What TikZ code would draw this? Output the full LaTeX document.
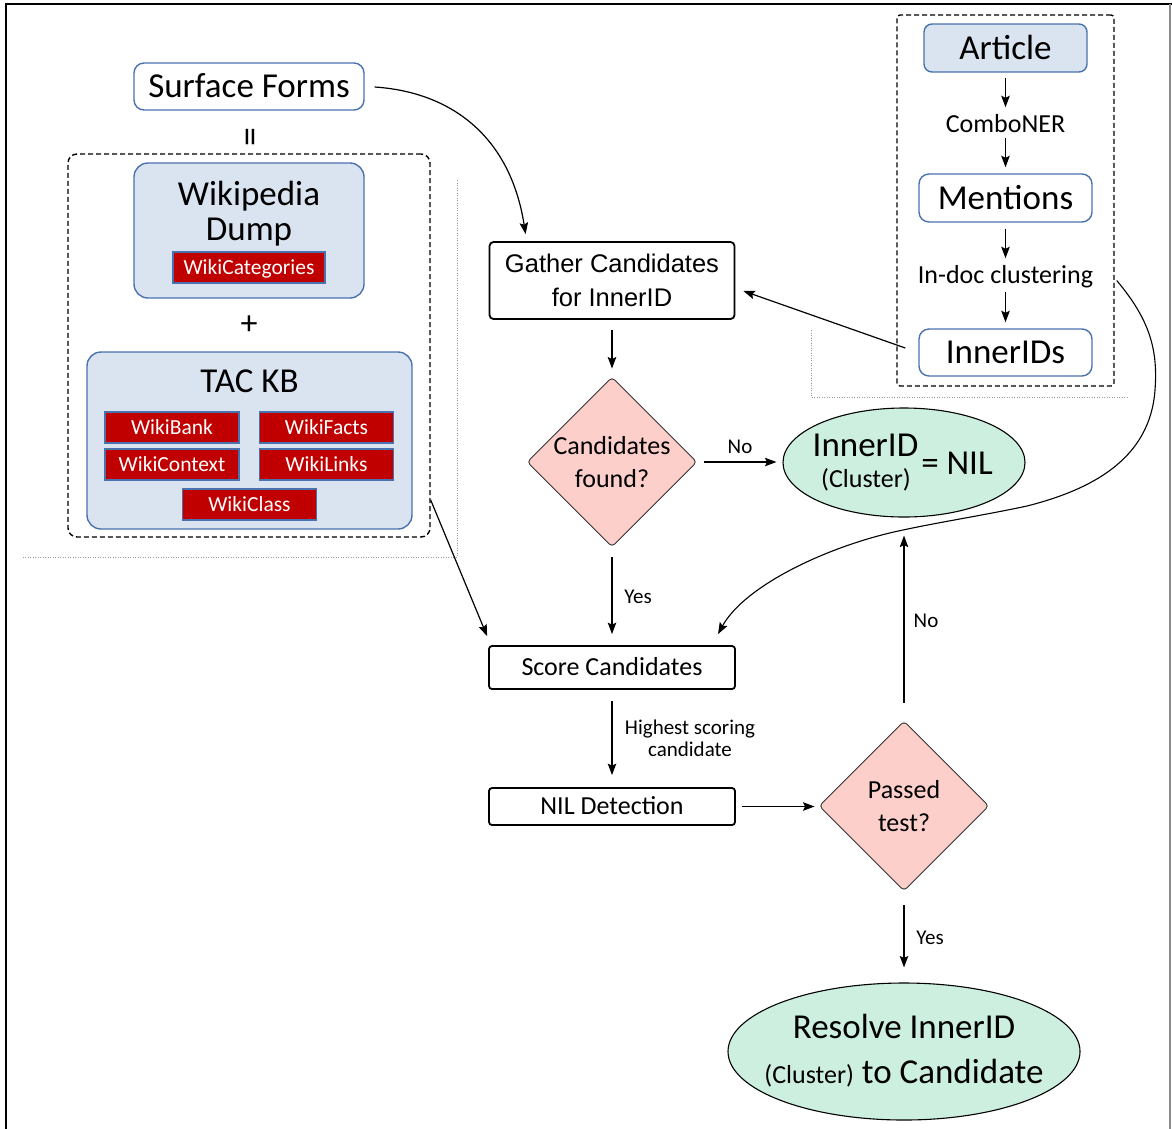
\documentclass[tikz,border=0pt]{standalone}
\usepackage{fontspec}
\setmainfont{Carlito}
\newfontfamily\arialf{Liberation Sans}
\usetikzlibrary{shapes.geometric,arrows.meta,calc}
\definecolor{lblue}{HTML}{DAE3F0}
\definecolor{bblue}{HTML}{4A72AE}
\definecolor{kred}{HTML}{C00000}
\definecolor{dpink}{HTML}{FCCFCA}
\definecolor{mint}{HTML}{CCEFE0}
\definecolor{dotgray}{HTML}{999999}
\tikzset{
  arr/.style={-{Stealth[length=11.5pt,width=8.5pt,inset=2pt]}, line width=1.2pt},
  bbox/.style={draw=bblue, line width=1.4pt, rounded corners=10pt, fill=white, inner sep=0pt},
  big/.style={font=\fontsize{35}{40}\selectfont, text height=22pt, text depth=0pt},
  kbox/.style={draw=black, line width=1.8pt, rounded corners=4pt, fill=white, inner sep=0pt},
  rbox/.style={draw=bblue, line width=1.2pt, fill=kred, text=white, inner sep=0pt,
    minimum width=134pt, minimum height=31pt, font=\fontsize{21.5}{24}\selectfont,
    text height=13.5pt, text depth=0pt},
  dia/.style={diamond, aspect=1, draw=black!80, line width=0.9pt, fill=dpink,
    rounded corners=4pt, minimum width=170pt, minimum height=170pt, inner sep=0pt,
    align=center, font=\fontsize{26}{33}\selectfont},
  ell/.style={ellipse, draw=black, line width=1.1pt, fill=mint, inner sep=0pt},
  dbox/.style={draw=black, line width=1.4pt, dash pattern=on 5pt off 3pt, rounded corners=9pt, inner sep=0pt},
  dotl/.style={draw=dotgray, line width=1pt, dash pattern=on 1pt off 1.5pt},
  lbl/.style={inner sep=0pt, anchor=base, font=\fontsize{21}{24}\selectfont},
  mid/.style={inner sep=0pt, anchor=base, font=\fontsize{26}{30}\selectfont},
  bigt/.style={inner sep=0pt, anchor=base, font=\fontsize{35}{40}\selectfont},
}
\begin{document}
\begin{tikzpicture}[x=1pt,y=-1pt]
\useasboundingbox (0,0) rectangle (1172,1128);
% frame
\draw[line width=1.3pt] (6,1132) -- (6,4) -- (1172,4);
\draw[black!45, line width=1.2pt] (1170,4) -- (1170,1132);

% left group
\node[bbox, big, minimum width=230pt, minimum height=47pt] (sf) at (249,86.5) {Surface Forms};
\node[rotate=90, inner sep=0pt, font=\fontsize{38}{40}\selectfont] (eq) at (254.5,137.5) {=};
\node[dbox, minimum width=362pt, minimum height=383pt] (lg) at (249,345.5) {};
\node[bbox, fill=lblue, rounded corners=14pt, minimum width=230pt, minimum height=135pt] (wd) at (249,230.5) {};
\node[bigt] (wd1) at (249,205) {Wikipedia};
\node[bigt] (wd2) at (249,240) {Dump};
\node[rbox, minimum width=152pt] (wcat) at (249,267.5) {WikiCategories};
\node[inner sep=0pt, font=\fontsize{34}{36}\selectfont] (plus) at (249,325) {+};
\node[bbox, fill=lblue, rounded corners=14pt, minimum width=325pt, minimum height=177pt] (tac) at (249.5,440.5) {};
\node[bigt] (tact) at (249.5,392) {TAC KB};
\node[rbox] (wb) at (172,427.5) {WikiBank};
\node[rbox] (wf) at (326.5,427.5) {WikiFacts};
\node[rbox] (wcx) at (172,464.5) {WikiContext};
\node[rbox] (wl) at (326.5,464.5) {WikiLinks};
\node[rbox] (wcl) at (249.5,504.5) {WikiClass};

% dotted separators
\draw[dotl] (457,180) -- (457,557) -- (23,557);
\draw[dotl] (811,330) -- (811,397) -- (1127,397);

% right group
\node[dbox, rounded corners=3pt, minimum width=217pt, minimum height=371pt] (rg) at (1005.5,200.5) {};
\node[bbox, fill=lblue, rounded corners=8pt, big, minimum width=163pt, minimum height=48pt] (art) at (1005.5,48) {Article};
\node[mid] (cn) at (1005.5,132) {ComboNER};
\node[bbox, big, minimum width=173pt, minimum height=48pt] (men) at (1005.5,198) {Mentions};
\node[mid] (cl) at (1005.5,283) {In-doc clustering};
\node[bbox, big, minimum width=173pt, minimum height=47pt] (inn) at (1005.5,352.5) {InnerIDs};
\draw[arr, shorten <=5pt, shorten >=6.5pt] (art.south) -- (art.south |- cn.north);
\draw[arr, shorten <=6pt, shorten >=6pt] (cn.south) -- (cn.south |- men.north);
\draw[arr, shorten <=6pt, shorten >=6.5pt] (men.south) -- (men.south |- cl.north);
\draw[arr, shorten <=4.3pt, shorten >=6pt] (cl.south) -- (cl.south |- inn.north);

% main flow
\node[kbox, minimum width=245pt, minimum height=77pt, align=center, font=\arialf\fontsize{25.5}{34}\selectfont] (gc) at (612,280.5) {Gather Candidates\\for InnerID};
\node[dia] (d1) at (612,462) {Candidates\\found?};
\node[ell, minimum width=242pt, minimum height=109pt] (e1) at (904,462.5) {};
\node[bigt] (e1a) at (865.5,456) {InnerID};
\node[mid] (e1b) at (866,487) {(Cluster)};
\node[bigt] (e1c) at (957,474) {= NIL};
\node[kbox, rounded corners=3pt, minimum width=246pt, minimum height=43pt, font=\fontsize{26}{30}\selectfont, text height=16.5pt, text depth=0pt] (sc) at (612,667.5) {Score Candidates};
\node[kbox, rounded corners=3pt, minimum width=246pt, minimum height=37pt, font=\fontsize{26}{30}\selectfont, text height=16.5pt, text depth=0pt] (nd) at (612,806.5) {NIL Detection};
\node[dia] (d2) at (904,806) {Passed\\test?};
\node[ell, minimum width=352pt, minimum height=137pt] (e2) at (904,1051.5) {};
\node[bigt] (e2a) at (904,1038) {Resolve InnerID};
\node[bigt] (e2b) at (904,1083) {{\fontsize{26}{30}\selectfont (Cluster)} to Candidate};

% connectors
\draw[arr] ($(sf.east)+(10,0.5)$) .. controls (450,92) and (510,135) .. ($(gc.north west)+(37,-7)$);
\draw[arr] ($(inn.west)+(-13,-4.5)$) -- ($(gc.east)+(8,10.5)$);
\draw[arr] ($(lg.east)+(0,154.5)$) -- ($(sc.north west)+(-1,-9)$);
\draw[arr, line width=1.1pt] ($(rg.east)+(2,80)$) .. controls (1150,320) and (1158,350) .. (1155,390)
   .. controls (1150,460) and (1090,490) .. (1027,506)
   .. controls (985,515) and (940,522) .. (903,530)
   .. controls (830,545) and (745,585) .. ($(sc.north)+(106,-11)$);
\draw[arr, shorten <=10pt, shorten >=8pt] (gc.south) -- (d1.north);
\draw[arr, shorten <=7pt, shorten >=6pt] (d1.east) -- (d1.east -| e1.west);
\node[lbl] (lno1) at (740,453.5) {No};
\draw[arr, shorten <=10pt, shorten >=11pt] (d1.south) -- (sc.north);
\node[lbl] (lyes1) at (638,603) {Yes};
\draw[arr, shorten <=11pt, shorten >=12pt] (sc.south) -- (nd.north);
\node[inner sep=0pt, align=center, font=\fontsize{21}{22}\selectfont] (lhs) at (690,738.75) {Highest scoring\\candidate};
\draw[arr, shorten <=6pt, shorten >=4pt] (nd.east) -- (nd.east -| d2.west);
\draw[arr, shorten <=18pt, shorten >=18pt] (d2.north) -- (e1.south);
\node[lbl] (lno2) at (926,627) {No};
\draw[arr, shorten <=14pt, shorten >=15pt] (d2.south) -- (e2.north);
\node[lbl] (lyes2) at (930,944) {Yes};
\end{tikzpicture}
\end{document}
